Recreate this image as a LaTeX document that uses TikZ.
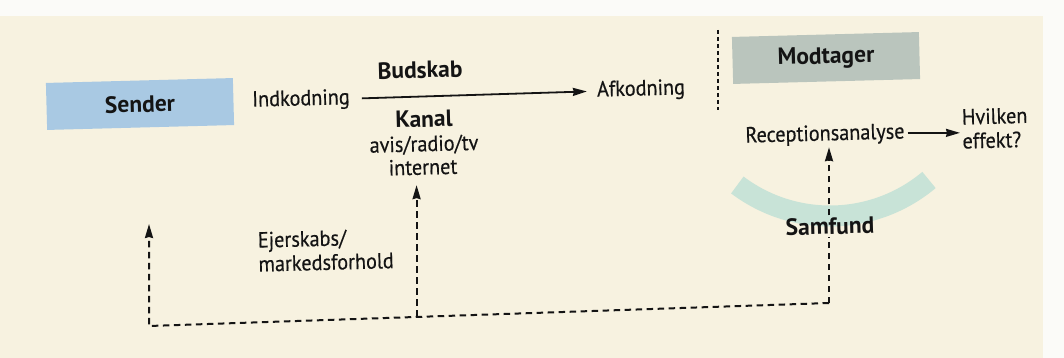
\documentclass[tikz,border=0pt]{standalone}
\usepackage{fontspec}
\setmainfont{PT Sans}
\newfontfamily\regfont{PT Sans}[FakeStretch=0.92, FakeBold=0.4]
\newfontfamily\bfam{PT Sans}
\usetikzlibrary{arrows.meta,calc}
\definecolor{bg}{HTML}{F7F2E0}
\definecolor{pagewhite}{HTML}{FBFBF8}
\definecolor{ink}{HTML}{141414}
\definecolor{senderblue}{HTML}{A9C9E3}
\definecolor{modgray}{HTML}{BAC5BD}
\definecolor{arcgreen}{HTML}{C8E3D7}
\tikzset{
  lbl/.style={font=\regfont\fontsize{22}{24}\selectfont, text=ink, inner sep=2pt, rotate=1.5},
  blbl/.style={lbl, font=\bfam\bfseries\fontsize{23.5}{25}\selectfont},
  boxnode/.style={blbl, minimum width=187pt, minimum height=47pt, inner sep=0pt},
  dashedline/.style={draw=ink, line width=2pt, dash pattern=on 6.5pt off 4.5pt},
  solidline/.style={draw=ink, line width=1.8pt},
  arr/.style={-{Stealth[length=14pt,width=8pt,inset=1pt]}},
}
\begin{document}
\begin{tikzpicture}[x=1pt,y=-1pt]
\useasboundingbox (0,0) rectangle (1064,358);
\fill[bg] (0,0) rectangle (1064,358);
\fill[pagewhite] (0,0) rectangle (1064,16);
\fill[pagewhite] (1043,0) rectangle (1064,358);

% boxes
\node[boxnode, fill=senderblue] (sender) at (140,104) {Sender};
\node[boxnode, fill=modgray] (modtager) at (826,58) {Modtager};

% texts
\node[lbl] (ind) at (301,100) {Indkodning};
\node[blbl] (budskab) at (420,70) {Budskab};
\node[lbl] (afk) at (641,90) {Afkodning};
\node[blbl] (kanal) at (424,119) {Kanal};
\node[lbl] (avis) at (424,145) {avis/radio/tv};
\node[lbl] (internet) at (423,167) {internet};
\node[lbl] (recep) at (825,135) {Receptionsanalyse};
\node[lbl, align=left, anchor=west] (hv) at (960,129) {Hvilken\\effekt?};
\node[lbl, align=left, anchor=west] (ejer) at (256,252) {Ejerskabs/\\markedsforhold};

% Samfund arc
\draw[line width=21pt, arcgreen] ($(830,62)+(50:154)$) arc[start angle=50, end angle=127, radius=154];
\node[blbl] (samfund) at (830,226) {Samfund};

% separator
\coordinate (sepT) at (718,30);
\coordinate (sepB) at (718,110);
\draw[draw=ink, line width=1.6pt, dash pattern=on 4pt off 3pt] (sepT) -- (sepB);

% main arrows
\draw[solidline, arr, shorten <=10pt, shorten >=8pt] (ind.east) -- (afk.west);
\draw[solidline, arr, shorten <=1pt] (recep.east) -- (recep.east -| hv.west);

% dashed feedback
\coordinate (bl) at (149,326);
\coordinate (br) at (829,303);
\coordinate (lt) at (149,224);
\coordinate (bm) at ($(bl)!0.3935!(br)$);
\draw[dashedline, arr] (br) -- (bl) -- (lt);
\draw[dashedline] (br) -- (br |- samfund.south);
\draw[dashedline, arr] (samfund.north -| br) -- (br |- recep.south);
\draw[dashedline, arr, shorten >=8pt] (bm) -- (bm |- internet.south);
\end{tikzpicture}
\end{document}
